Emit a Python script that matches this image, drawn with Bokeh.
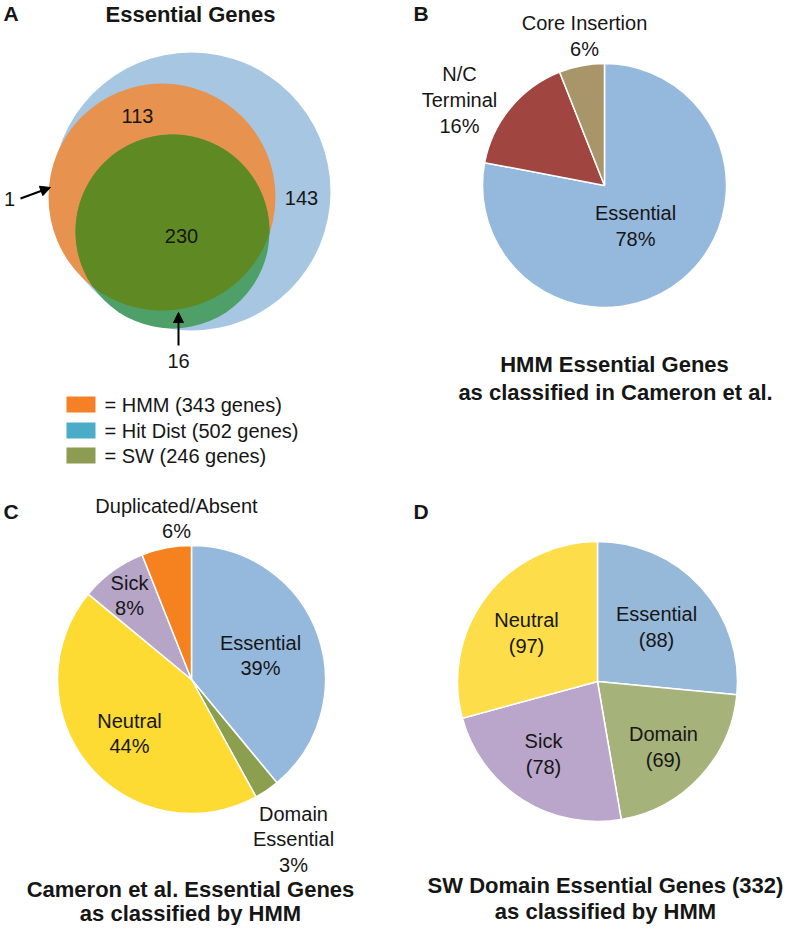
import numpy as np
from bokeh.plotting import figure
from bokeh.models import Range1d, Arrow, NormalHead, ColumnDataSource
from bokeh.core.properties import value
from bokeh.embed import file_html
from bokeh.resources import INLINE

# ---------------- data ----------------
venn_counts = [113, 143, 230, 1, 16]
legend_names = ["HMM", "Hit Dist", "SW"]
legend_genes = [343, 502, 246]

b_names = ["Essential", "N/C\nTerminal", "Core Insertion"]
b_pct = [78, 16, 6]

c_names = ["Essential", "Domain\nEssential", "Neutral", "Sick", "Duplicated/Absent"]
c_pct = [39, 3, 44, 8, 6]

d_names = ["Essential", "Domain", "Sick", "Neutral"]
d_counts = [88, 69, 78, 97]

# ---------------- styles / layout ----------------
W, H = 784, 925
FONT = value("Liberation Sans")
TXT = "#161616"

def X(x):
    return x

def Y(y):
    return H - y

p = figure(width=W, height=H, x_range=Range1d(0, W), y_range=Range1d(0, H),
           output_backend="svg", toolbar_location=None,
           x_axis_location=None, y_axis_location=None, min_border=0)
p.grid.visible = False
p.outline_line_color = None
p.background_fill_color = "white"
p.border_fill_color = "white"


def txt(xs, ys, texts, size="20px", bold=False, align="center"):
    p.text(x=[X(v) for v in xs], y=[Y(v) for v in ys], text=texts,
           text_font=FONT, text_font_size=size,
           text_font_style="bold" if bold else "normal",
           text_align=align, text_baseline="middle", text_color=TXT)


def pie(cx, cy, r, vals, colors):
    vals = np.asarray(vals, dtype=float)
    frac = vals / vals.sum()
    cum = np.concatenate([[0], np.cumsum(frac)])
    start = np.pi / 2 - cum[1:] * 2 * np.pi
    end = np.pi / 2 - cum[:-1] * 2 * np.pi
    src = ColumnDataSource(dict(x=[X(cx)] * len(vals), y=[Y(cy)] * len(vals),
                                start=start, end=end, color=colors))
    p.wedge(x="x", y="y", radius=r, start_angle="start", end_angle="end",
            fill_color="color", line_color="white", line_width=1.5, source=src)


def labels(names, vals, pos, fmt, step=26):
    for name, v, (lx, ly) in zip(names, vals, pos):
        lines = name.split("\n") + [fmt.format(v)]
        txt([lx] * len(lines), [ly + i * step for i in range(len(lines))], lines)


# ---------------- Panel A: Venn ----------------
txt([3], [13], ["A"], size="21px", bold=True, align="left")
txt([190], [14], ["Essential Genes"], size="22px", bold=True)

blue_c, blue_r = (191, 191), 139
orng_c, orng_r = (161.5, 196.5), 113.5
grn_c, grn_r = (172, 231), 97

p.circle(x=[X(blue_c[0])], y=[Y(blue_c[1])], radius=blue_r, fill_color="#a6c6e2", line_color=None)
p.circle(x=[X(orng_c[0])], y=[Y(orng_c[1])], radius=orng_r, fill_color="#e8924f", line_color=None)
p.circle(x=[X(grn_c[0])], y=[Y(grn_c[1])], radius=grn_r, fill_color="#4f9f68", line_color=None)

# lens (green ∩ orange)
t = np.linspace(0, 2 * np.pi, 720, endpoint=False)
gx = X(grn_c[0]) + grn_r * np.cos(t); gy = Y(grn_c[1]) + grn_r * np.sin(t)
ox = X(orng_c[0]) + orng_r * np.cos(t); oy = Y(orng_c[1]) + orng_r * np.sin(t)
in_o = (gx - X(orng_c[0])) ** 2 + (gy - Y(orng_c[1])) ** 2 <= orng_r ** 2
in_g = (ox - X(grn_c[0])) ** 2 + (oy - Y(grn_c[1])) ** 2 <= grn_r ** 2
lx = np.concatenate([gx[in_o], ox[in_g]]); ly = np.concatenate([gy[in_o], oy[in_g]])
ang = np.arctan2(ly - ly.mean(), lx - lx.mean())
order = np.argsort(ang)
p.patch(lx[order], ly[order], fill_color="#5f8a23", line_color=None)

txt([137, 301, 181], [115, 197, 235], [str(v) for v in venn_counts[:3]])
txt([9], [198], [str(venn_counts[3])])
txt([178], [360], [str(venn_counts[4])])

p.add_layout(Arrow(end=NormalHead(size=10, fill_color="black", line_color="black"),
                   x_start=X(20), y_start=Y(198), x_end=X(50), y_end=Y(187),
                   line_width=2, line_color="black"))
p.add_layout(Arrow(end=NormalHead(size=10, fill_color="black", line_color="black"),
                   x_start=X(178), y_start=Y(345), x_end=X(178), y_end=Y(312),
                   line_width=2, line_color="black"))

leg_colors = ["#f58025", "#4aacc6", "#8c9c50"]
leg_y = [404, 430, 455]
p.rect(x=[X(80.5)] * 3, y=[Y(v) for v in leg_y], width=29, height=16,
       fill_color=leg_colors, line_color=None)
txt([104] * 3, leg_y, [f"= {n} ({g} genes)" for n, g in zip(legend_names, legend_genes)], align="left")

# ---------------- Panel B ----------------
txt([413], [13], ["B"], size="21px", bold=True, align="left")
pie(604, 185, 122, b_pct, ["#95b9dc", "#a0453f", "#a8956a"])
labels(b_names, b_pct, [(635, 212), (459, 73), (584, 22)], "{}%")
txt([614, 615], [364, 392], ["HMM Essential Genes", "as classified in Cameron et al."], size="22px", bold=True)

# ---------------- Panel C ----------------
txt([3], [511], ["C"], size="21px", bold=True, align="left")
pie(191, 679, 134, c_pct, ["#95b9dc", "#8c9f4f", "#fddb33", "#b7a5c8", "#f5811f"])
labels(c_names, c_pct, [(260, 642), (293, 813), (129, 720), (129, 582), (176, 505)], "{}%", step=25.5)
txt([190, 190], [889, 913], ["Cameron et al. Essential Genes", "as classified by HMM"], size="22px", bold=True)

# ---------------- Panel D ----------------
txt([413], [511], ["D"], size="21px", bold=True, align="left")
pie(597, 681, 140, d_counts, ["#97b9d9", "#a5b279", "#b9a6ca", "#fddd4a"])
labels(d_names, d_counts, [(656, 613), (663, 733), (543, 740), (526, 619)], "({})")
txt([605, 605], [885, 911], ["SW Domain Essential Genes (332)", "as classified by HMM"], size="22px", bold=True)

open("out.html", "w").write(file_html(p, INLINE))
